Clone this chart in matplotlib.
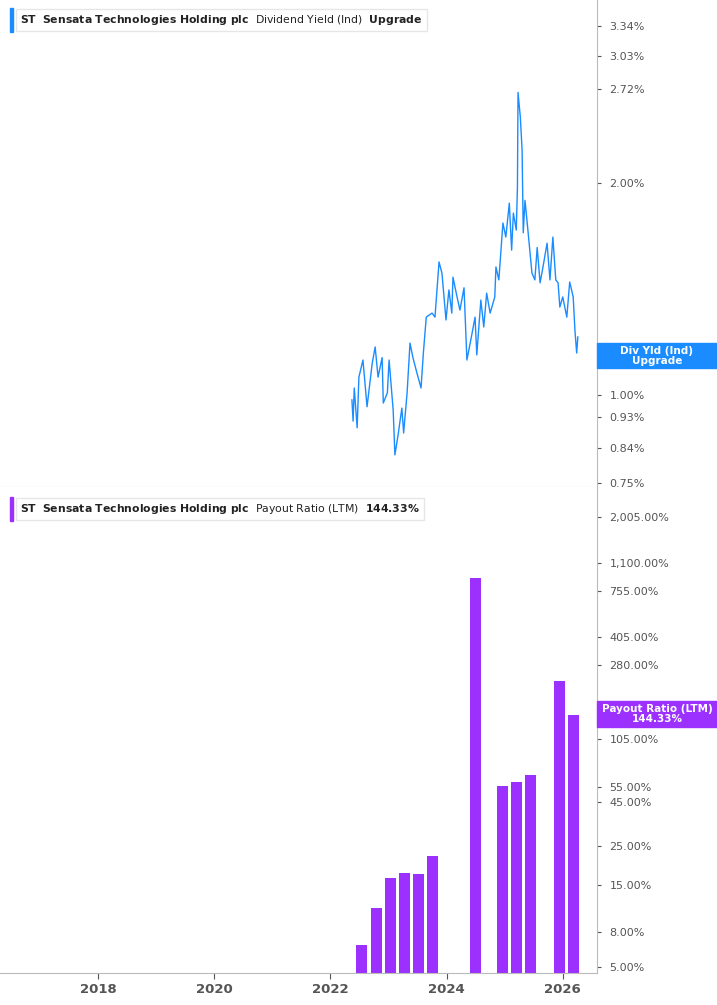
import matplotlib
matplotlib.use("Agg")
import matplotlib.pyplot as plt
from matplotlib.ticker import FixedLocator, NullLocator

yld_t = [2022.37,2022.39,2022.41,2022.46,2022.49,2022.56,2022.63,2022.72,2022.77,2022.82,2022.89,2022.91,2022.98,2023.01,2023.08,2023.11,2023.16,2023.23,2023.26,2023.32,2023.37,2023.42,2023.49,2023.56,2023.60,2023.65,2023.75,2023.80,2023.87,2023.92,2023.99,2024.04,2024.09,2024.11,2024.18,2024.23,2024.30,2024.35,2024.44,2024.49,2024.52,2024.59,2024.64,2024.69,2024.75,2024.83,2024.85,2024.90,2024.97,2025.02,2025.08,2025.12,2025.15,2025.20,2025.22,2025.23,2025.27,2025.30,2025.32,2025.35,2025.40,2025.47,2025.52,2025.56,2025.61,2025.66,2025.73,2025.78,2025.83,2025.88,2025.92,2025.95,2026.00,2026.07,2026.12,2026.18,2026.21,2026.24,2026.26]
yld_v = [0.984,0.918,1.023,0.898,1.06,1.121,0.962,1.11,1.17,1.06,1.13,0.974,1.007,1.121,0.952,0.822,0.872,0.958,0.883,1.007,1.185,1.13,1.074,1.023,1.147,1.29,1.307,1.29,1.545,1.49,1.278,1.41,1.307,1.47,1.378,1.32,1.42,1.121,1.225,1.29,1.14,1.364,1.249,1.395,1.307,1.378,1.52,1.457,1.755,1.676,1.873,1.606,1.813,1.715,1.973,2.69,2.48,2.23,1.70,1.89,1.715,1.49,1.457,1.62,1.443,1.52,1.643,1.457,1.676,1.457,1.443,1.333,1.378,1.29,1.447,1.378,1.236,1.147,1.209]

pay_t = [2022.53,2022.79,2023.03,2023.27,2023.51,2023.75,2024.49,2024.97,2025.21,2025.45,2025.95,2026.19]
pay_v = [6.7,11.0,16.3,17.5,17.3,22.0,895,55.8,58.8,64.6,226,144.33]

yld_ticks = [0.75,0.84,0.93,1.00,2.00,2.72,3.03,3.34]
pay_ticks = [5,8,15,25,45,55,105,280,405,755,1100,2005]
years = [2018,2020,2022,2024,2026]

W,H = 717,1005
fig = plt.figure(figsize=(W/100,H/100),dpi=100)
ax1 = fig.add_axes([0,1-487/H,597/W,487/H])
ax2 = fig.add_axes([0,1-973/H,597/W,486/H])
blue = "#1a8cff"; purple = "#9b30ff"; grey = "#555555"
xl = (2016.31,2026.59)
for ax in (ax1,ax2):
    ax.set_xlim(*xl)
    ax.set_yscale("log")
    ax.yaxis.tick_right()
    ax.yaxis.set_minor_locator(NullLocator())
    for s in ("top","left"):
        ax.spines[s].set_visible(False)
    ax.spines["right"].set_color("#bbbbbb")
    ax.spines["bottom"].set_color("#bbbbbb")
    ax.tick_params(axis="y",labelsize=8,colors=grey,length=3,pad=6)
    ax.set_xticks(years)

ax1.plot(yld_t,yld_v,color=blue,lw=1)
ax1.set_ylim(0.74,3.64)
ax1.yaxis.set_major_locator(FixedLocator(yld_ticks))
ax1.set_yticklabels([f"{v:.2f}%" for v in yld_ticks])
ax1.tick_params(axis="x",length=0,labelbottom=False)

ax2.bar(pay_t,pay_v,width=0.19,color=purple,bottom=0.01)
ax2.set_ylim(4.62,3010)
ax2.yaxis.set_major_locator(FixedLocator(pay_ticks))
ax2.set_yticklabels([f"{v:,.2f}%" for v in pay_ticks])
ax2.set_xticklabels([str(y) for y in years],fontsize=9.5,color=grey,fontweight="bold")
ax2.tick_params(axis="x",length=4,colors=grey)

def legend(ax,color,text,y):
    fig.patches.append(matplotlib.patches.Rectangle((10/W,1-(y+12)/H),3/W,24/H,transform=fig.transFigure,color=color))
    fig.text(20/W,1-y/H,text,fontsize=7.8,va="center",ha="left",color="#222222",
             bbox=dict(facecolor="white",edgecolor="#e6e6e6",boxstyle="square,pad=0.4"))

legend(ax1,blue,r"$\bf{ST}$  $\bf{Sensata\ Technologies\ Holding\ plc}$  Dividend Yield (Ind)  $\bf{Upgrade}$",20)
legend(ax2,purple,r"$\bf{ST}$  $\bf{Sensata\ Technologies\ Holding\ plc}$  Payout Ratio (LTM)  $\bf{144.33\%}$",509)

def badge(color,lines,y0,y1):
    fig.patches.append(matplotlib.patches.Rectangle((597/W,1-y1/H),120/W,(y1-y0)/H,transform=fig.transFigure,color=color))
    fig.text(657/W,1-(y0+y1)/2/H,lines,color="white",fontsize=7.5,fontweight="bold",ha="center",va="center",linespacing=1.0)

badge(blue,"Div Yld (Ind)\nUpgrade",343,368)
badge(purple,"Payout Ratio (LTM)\n144.33%",701,727)
fig.savefig("out.png",dpi=100)
